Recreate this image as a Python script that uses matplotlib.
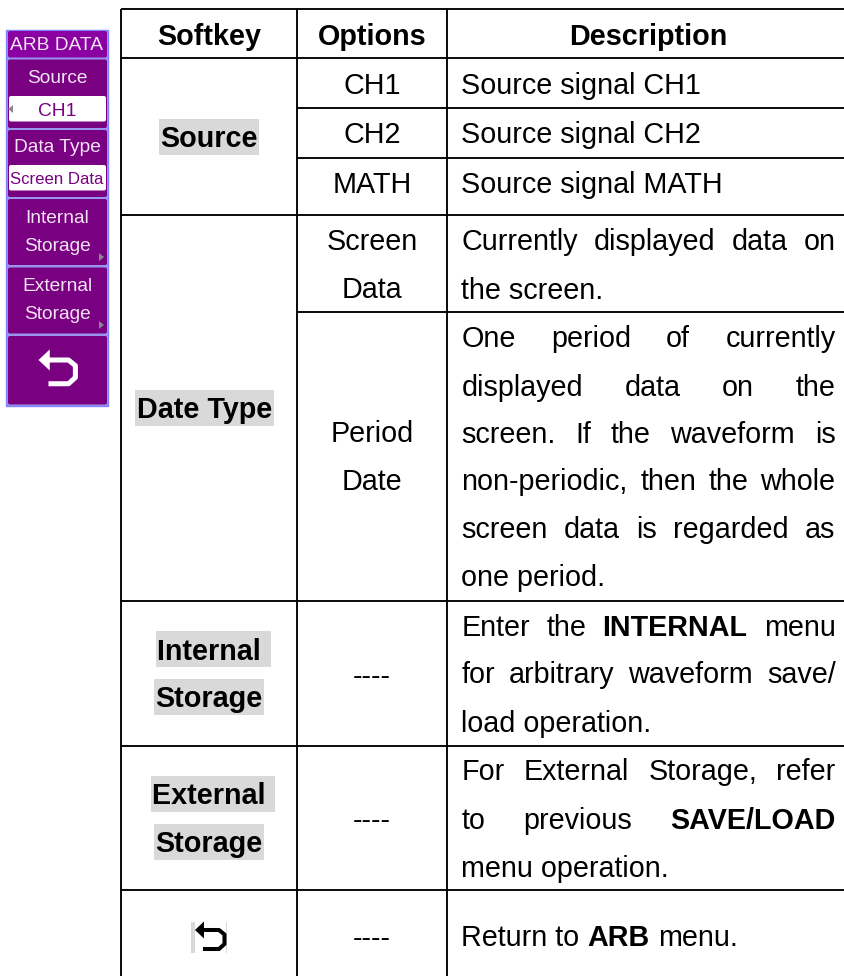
import matplotlib
matplotlib.use("Agg")
import matplotlib.pyplot as plt
from matplotlib.patches import Rectangle, FancyBboxPatch, Polygon
from matplotlib import font_manager as fm

# ---- content ----
headers = ["Softkey", "Options", "Description"]
softkeys = [["Source"], ["Date Type"], ["Internal ", "Storage"], ["External ", "Storage"]]
options = [["CH1"], ["CH2"], ["MATH"], ["Screen", "Data"], ["Period", "Date"], ["----"], ["----"], ["----"]]
desc_plain = ["Source signal CH1", "Source signal CH2", "Source signal MATH"]
desc_just = [
    [("Currently", 0), ("displayed", 0), ("data", 0), ("on", 0)],
    [("One", 0), ("period", 0), ("of", 0), ("currently", 0)],
    [("displayed", 0), ("data", 0), ("on", 0), ("the", 0)],
    [("screen.", 0), ("If", 0), ("the", 0), ("waveform", 0), ("is", 0)],
    [("non-periodic,", 0), ("then", 0), ("the", 0), ("whole", 0)],
    [("screen", 0), ("data", 0), ("is", 0), ("regarded", 0), ("as", 0)],
    [("Enter", 0), ("the", 0), ("INTERNAL", 1), ("menu", 0)],
    [("for", 0), ("arbitrary", 0), ("waveform", 0), ("save/", 0)],
    [("For", 0), ("External", 0), ("Storage,", 0), ("refer", 0)],
    [("to", 0), ("previous", 0), ("SAVE/LOAD", 1)],
]
desc_last = ["the screen.", "one period.", "load operation.", "menu operation."]
return_runs = [("Return to", 0), ("ARB", 1), ("menu.", 0)]
menu_title = "ARB DATA"
menu_labels = ["Source", "Data Type", "Internal", "Storage", "External", "Storage"]
menu_values = ["CH1", "Screen Data"]

# ---- layout (pixels) ----
W, H = 845, 976
X0, X1, X2 = 121.3, 297, 447
FULL_RULES = [9, 58, 215, 601, 746, 890]
PART_RULES = [108, 157.5, 312]
DL, DR = 461.5, 835.5
FS = 28.8 * 0.72
MFS = 19.2 * 0.72
PURPLE = "#7a0082"
FONT = "Liberation Sans"
names = {f.name for f in fm.fontManager.ttflist}
NARROW = "Liberation Sans Narrow" if "Liberation Sans Narrow" in names else None

fig = plt.figure(figsize=(W / 100, H / 100), dpi=100, facecolor="white")
ax = fig.add_axes([0, 0, 1, 1])
ax.set_xlim(0, W)
ax.set_ylim(H, 0)
ax.axis("off")
r = fig.canvas.get_renderer()


def T(x, y, s, bold=False, ha="left", size=FS, color="black", family=FONT, z=5):
    return ax.text(x, y, s, fontsize=size, family=family, color=color, ha=ha, va="baseline",
                   fontweight="bold" if bold else "normal", zorder=z)


def width(s, bold=False):
    t = T(0, 0, s, bold)
    w = t.get_window_extent(r).width
    t.remove()
    return w


def justify(y, words):
    ws = [width(w, b) for w, b in words]
    gap = (DR - DL - sum(ws)) / (len(words) - 1)
    x = DL
    for (w, b), wd in zip(words, ws):
        T(x, y, w, b)
        x += wd + gap


# ---- rules ----
LW = 1.35
for y in FULL_RULES:
    ax.plot([X0, W], [y, y], color="black", lw=LW, solid_capstyle="butt", zorder=2)
for y in PART_RULES:
    ax.plot([X1, W], [y, y], color="black", lw=LW, solid_capstyle="butt", zorder=2)
for x in (X0, X1, X2):
    ax.plot([x, x], [9, H], color="black", lw=LW, solid_capstyle="butt", zorder=2)

# ---- header ----
for x, s in zip([209, 372, 648.5], headers):
    T(x, 45, s, True, ha="center")

# ---- softkeys ----
key_pos = [[(209, 147, 159, 119, 100, 36)], [(204.5, 418, 135, 390, 139, 36)],
           [(209, 659.5, 156, 631, 115, 36), (209, 707, 154, 679, 110, 36)],
           [(209, 804, 151, 776, 124, 36), (209, 852.5, 154, 824, 110, 36)]]
for lines, poss in zip(softkeys, key_pos):
    for s, (cx, by, rx, ry, rw, rh) in zip(lines, poss):
        ax.add_patch(Rectangle((rx, ry), rw, rh, fc="#d9d9d9", ec="none", zorder=3))
        T(rx + 1 if s.endswith(" ") else cx, by, s, True, ha="left" if s.endswith(" ") else "center")

# ---- options ----
opt_y = [[94], [143], [193], [250.5, 298.5], [442, 490], [684.5], [829], [947.5]]
for lines, ys in zip(options, opt_y):
    for s, y in zip(lines, ys):
        T(372, y, s, ha="center")

# ---- description ----
for s, y in zip(desc_plain, [94, 143, 193]):
    T(DL, y, s)
just_y = [250.5, 347, 396, 443, 490.5, 538, 636, 683, 780.5, 829]
for words, y in zip(desc_just, just_y):
    justify(y, words)
for s, y in zip(desc_last, [299, 586, 731.5, 877]):
    T(DL, y, s)
x = DL
space = 0.278 * 28.8
for s, b in return_runs:
    T(x, 946.5, s, bool(b))
    x += width(s, bool(b)) + space

# ---- return icon (table) ----
ax.add_patch(Rectangle((191, 922), 36, 31, fc="#d9d9d9", ec="none", zorder=3))
ax.add_patch(Rectangle((195, 922), 31.5, 31, fc="white", ec="none", zorder=3))


def back_icon(x, y, s, color, z):
    # x, y = arrow tip; s = scale
    ax.add_patch(Polygon([(x, y), (x + 9 * s, y - 8.5 * s), (x + 9 * s, y + 8.5 * s)], fc=color, ec="none", zorder=z))
    ax.plot([x + 8 * s, x + 24 * s, x + 29.5 * s, x + 29.5 * s, x + 24 * s, x + 8 * s],
            [y, y, y + 4.5 * s, y + 14 * s, y + 19 * s, y + 19 * s],
            color=color, lw=2.9 * s, solid_joinstyle="round", solid_capstyle="butt", zorder=z)


back_icon(195, 930, 1.0, "black", 4)

# ---- softkey menu ----
ax.add_patch(Rectangle((6, 30), 102.5, 375.5, fc="#9a94ee", ec="#8080ff", lw=1.0, zorder=1))
blocks = [(8, 31, 99, 26.5), (8, 59.5, 99, 68.5), (8, 130, 99, 67), (8, 199, 99, 66), (8, 267.5, 99, 66), (8, 336, 99, 68.5)]
for i, (bx, by, bw, bh) in enumerate(blocks):
    ax.add_patch(FancyBboxPatch((bx + 1, by + 1), bw - 2, bh - 2, boxstyle="round,pad=1,rounding_size=2",
                                fc="#8a00a0" if i == 0 else PURPLE, ec="none", zorder=2))
for by in (96, 165):
    ax.add_patch(FancyBboxPatch((10.5, by + 1.5), 94, 22.5, boxstyle="round,pad=1.5,rounding_size=2",
                                fc="white", ec="none", zorder=3))

LIGHT = "#f2e4f4"
T(57, 50, menu_title, ha="center", size=MFS, color=LIGHT)
for s, y in zip(menu_labels, [83, 152, 223, 251, 291, 319]):
    T(57, y, s, ha="center", size=MFS, color=LIGHT)
T(57, 115.5, menu_values[0], ha="center", size=MFS, color=PURPLE)
if NARROW:
    T(57, 184.5, menu_values[1], ha="center", size=MFS * 1.04, color=PURPLE, family=NARROW)
else:
    T(57, 184.5, menu_values[1], ha="center", size=MFS * 0.87, color=PURPLE)
back_icon(38.5, 360, 1.25, "white", 4)
for pts in ([(8, 109), (13, 105), (13, 113)],
            [(99, 253), (99, 261), (104, 257)],
            [(99, 321), (99, 329), (104, 325)]):
    ax.add_patch(Polygon(pts, fc="#8a8a8a", ec="none", zorder=4))

fig.savefig("out.png", dpi=100, facecolor="white")
